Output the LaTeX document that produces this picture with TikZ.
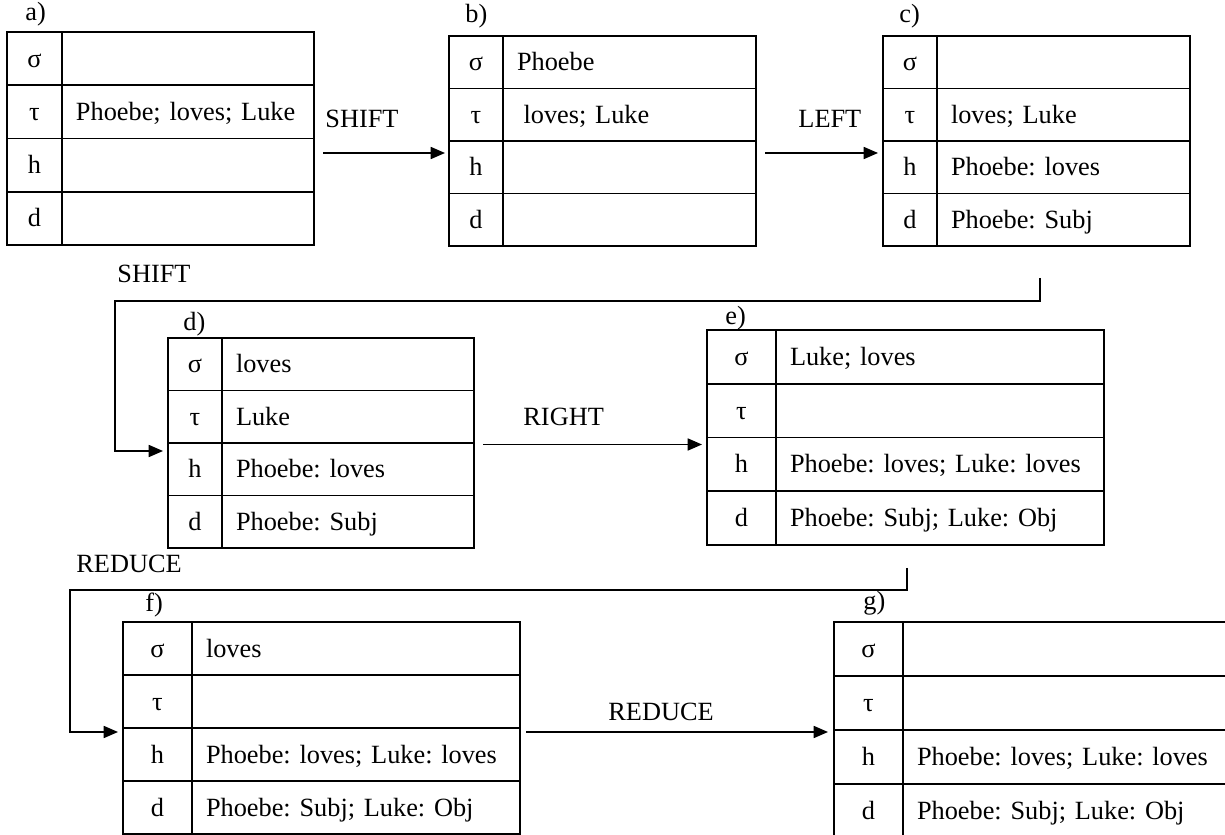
\documentclass[tikz,border=0pt]{standalone}
\usepackage{fontspec}
\setmainfont{Liberation Serif}
\usetikzlibrary{arrows.meta}
\frenchspacing

% one pixel of the layout
\newcommand{\pxu}{0.456pt}
\newcommand{\keyw}{55}
\newcommand{\valw}{252}
\newcommand{\rowh}{53}

\tikzset{
  cell/.style={draw, line width=0.85pt, anchor=north west, outer sep=0pt, inner ysep=0pt,
    minimum height=\rowh*\pxu, text height=9.8pt, text depth=2pt},
  keycell/.style={cell, inner xsep=0pt, minimum width=\keyw*\pxu},
  valcell/.style={cell, inner xsep=14*\pxu, minimum width=\valw*\pxu,
    text width=(\valw-28)*\pxu, align=left},
  tag/.style={anchor=base west, inner sep=0pt},
  trans/.style={line width=0.6pt, -{Triangle[length=6.5pt,width=5.5pt]}}
}

% one parser state: name, corner, sigma, tau, h, d
\newcommand{\statetable}[6]{%
  \node[keycell] (#1-sk) at (#2) {σ};
  \node[valcell] (#1-s) at (#1-sk.north east) {#3};
  \node[keycell] (#1-tk) at (#1-sk.south west) {τ};
  \node[valcell] (#1-t) at (#1-tk.north east) {#4};
  \node[keycell] (#1-hk) at (#1-tk.south west) {h};
  \node[valcell] (#1-h) at (#1-hk.north east) {#5};
  \node[keycell] (#1-dk) at (#1-hk.south west) {d};
  \node[valcell] (#1-d) at (#1-dk.north east) {#6};
}

\begin{document}
\begin{tikzpicture}[x=\pxu, y=-\pxu, font=\fontsize{12}{14}\selectfont]
\useasboundingbox (0,0) rectangle (1225,835);

% first row of states
\renewcommand{\rowh}{53.25}
\statetable{a}{7,32}{}{Phoebe; loves; Luke}{}{}
\renewcommand{\keyw}{54}\renewcommand{\valw}{253}\renewcommand{\rowh}{52.5}
\statetable{b}{449,36}{Phoebe}{\hspace*{0.25em}loves; Luke}{}{}
\statetable{c}{883,36}{}{loves; Luke}{Phoebe: loves}{Phoebe: Subj}

% second row
\renewcommand{\valw}{252}
\statetable{d}{168,338}{loves}{Luke}{Phoebe: loves}{Phoebe: Subj}
\renewcommand{\keyw}{69}\renewcommand{\valw}{328}\renewcommand{\rowh}{53.75}
\statetable{e}{707,330}{Luke; loves}{}{Phoebe: loves; Luke: loves}{Phoebe: Subj; Luke: Obj}

% third row
\renewcommand{\rowh}{53}
\statetable{f}{123,622}{loves}{}{Phoebe: loves; Luke: loves}{Phoebe: Subj; Luke: Obj}
\renewcommand{\valw}{400}\renewcommand{\rowh}{54}
\statetable{g}{834,622}{}{}{Phoebe: loves; Luke: loves}{Phoebe: Subj; Luke: Obj}

\node[tag] (la) at (25,21) {a)};
\node[tag] (lb) at (465,23) {b)};
\node[tag] (lc) at (899,23) {c)};
\node[tag] (ld) at (183,331) {d)};
\node[tag] (le) at (725,325) {e)};
\node[tag] (lf) at (145,612) {f)};
\node[tag] (lg) at (863,610) {g)};

% transitions
\coordinate (ab-end) at ([shift={(-4,12)}]b-hk.north west);
\draw[trans] (a-h.east |- ab-end) ++(9,0) -- (ab-end);
\node[tag] (shift1) at (325,128) {SHIFT};

\coordinate (bc-end) at ([shift={(-5,12)}]c-hk.north west);
\draw[trans] (b-h.east |- bc-end) ++(9,0) -- (bc-end);
\node[tag] (left) at (798,128) {LEFT};

\coordinate (cd-start) at ([shift={(157,32)}]c-dk.south west);
\coordinate (cd-end) at ([shift={(-5,8)}]d-hk.north west);
\draw[trans] (cd-start) -- ++(0,23) -| ([shift={(-48,0)}]cd-end) -- (cd-end);
\node[tag] (shift2) at (117,283) {SHIFT};

\coordinate (de-end) at ([shift={(-5,7)}]e-hk.north west);
\draw[trans] (d-h.east |- de-end) ++(9,0) -- (de-end);
\node[tag] (right) at (523,426) {RIGHT};

\coordinate (ef-start) at ([shift={(200,23)}]e-dk.south west);
\coordinate (ef-end) at ([shift={(-5,4)}]f-hk.north west);
\draw[trans] (ef-start) -- ++(0,22) -| ([shift={(-48,0)}]ef-end) -- (ef-end);
\node[tag] (reduce1) at (76,573) {REDUCE};

\coordinate (fg-end) at ([shift={(-6,2)}]g-hk.north west);
\draw[trans] (f-h.east |- fg-end) ++(6,0) -- (fg-end);
\node[tag] (reduce2) at (608,721) {REDUCE};

\end{tikzpicture}
\end{document}
